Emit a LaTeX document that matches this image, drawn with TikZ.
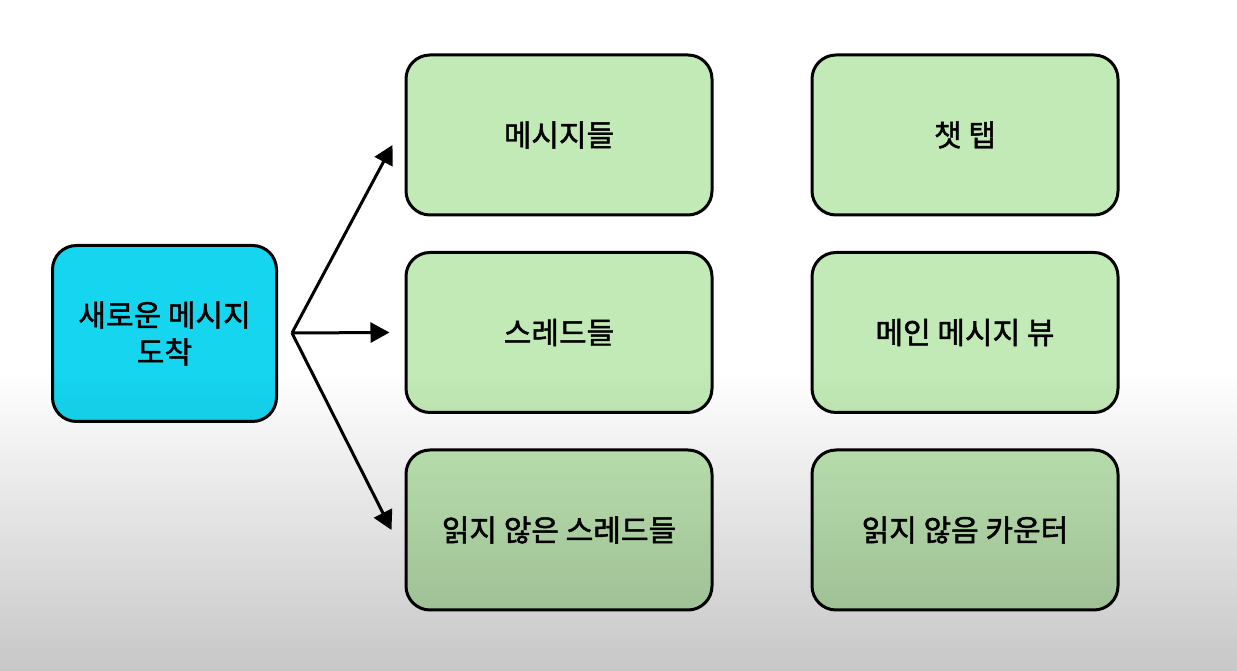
\documentclass[tikz,border=0pt]{standalone}
\usepackage{fontspec}
\setmainfont{Noto Sans CJK KR}
\newfontfamily\boxfont{Noto Sans CJK KR}[RawFeature={embolden=1.6}]
\usetikzlibrary{arrows.meta,fadings}
\definecolor{arrivecyan}{HTML}{16D5EF}
\definecolor{boxgreen}{HTML}{C2EAB6}
\begin{document}
\begin{tikzpicture}[x=1pt,y=1pt,
  box/.style={draw=black,line width=3pt,rounded corners=24pt,
    minimum width=306pt,minimum height=160pt,align=center,
    font=\boxfont\fontsize{30}{37}\selectfont},
  greenbox/.style={box,fill=boxgreen},
  link/.style={line width=3pt,-{Triangle[length=19pt,width=20pt]}}]
\useasboundingbox (0,0) rectangle (1237,671);
\fill[white] (0,0) rectangle (1237,671);
% event
\node[box,fill=arrivecyan,minimum width=224pt,minimum height=176pt] (arrive)
  at (164.5,337.5) {새로운 메시지\\도착};
% stores
\node[greenbox] (msgs)    at (559,536)   {메시지들};
\node[greenbox] (threads) at (559,338.5) {스레드들};
\node[greenbox] (unread)  at (559,141)   {읽지 않은 스레드들};
% views
\node[greenbox] (chattab)  at (965,536)   {챗 탭};
\node[greenbox] (mainview) at (965,338.5) {메인 메시지 뷰};
\node[greenbox] (counter)  at (965,141)   {읽지 않음 카운터};
% fan out
\coordinate (hub) at (292,338);
\draw[link] (hub) -- ([shift={(-12pt,-10pt)}]msgs.west);
\draw[link] (hub) -- ([xshift=-15pt]threads.west);
\draw[link] (hub) -- ([xshift=-13pt]unread.west);
% shadow at the bottom
\fill[black,fill opacity=.22,path fading=north] (0,0) rectangle (1237,300);
\end{tikzpicture}
\end{document}
